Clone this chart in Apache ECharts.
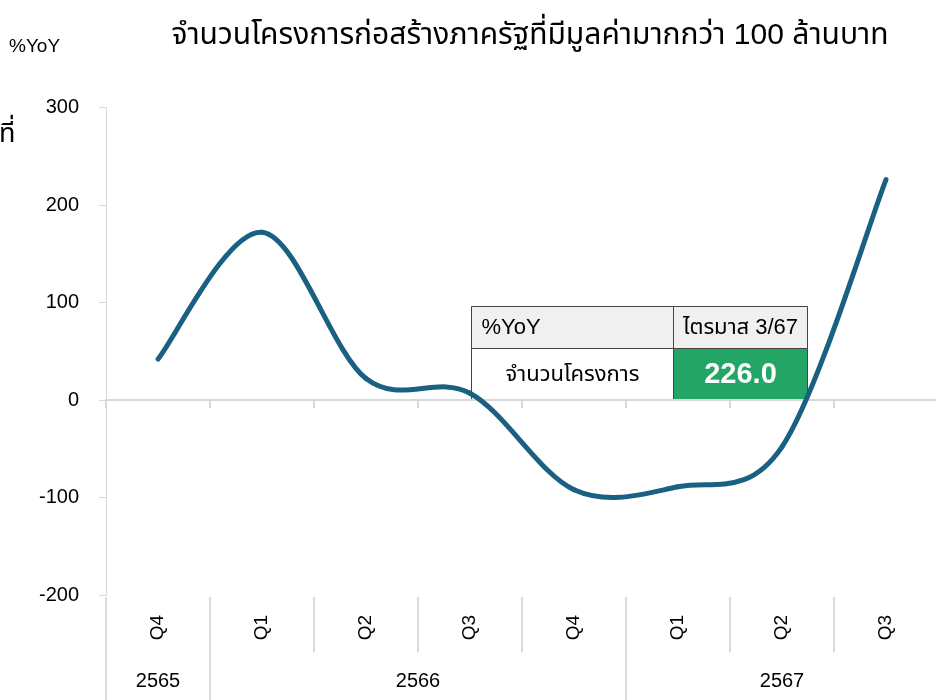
<!DOCTYPE html>
<html><head><meta charset="utf-8">
<script src="https://cdn.jsdelivr.net/npm/echarts@6/dist/echarts.min.js"></script>
<style>html,body{margin:0;padding:0;background:#fff}#c{width:936px;height:700px}</style>
</head><body><div id="c"></div>
<script>
const titleText = 'จำนวนโครงการก่อสร้างภาครัฐที่มีมูลค่ามากกว่า 100 ล้านบาท';
const yAxisName = '%YoY';
const quarters = ['Q4', 'Q1', 'Q2', 'Q3', 'Q4', 'Q1', 'Q2', 'Q3'];
const yoyValues = [42, 172, 22, 7, -92, -89, -48, 226];
const yearLabels = ['2565', '2566', '2567'];
const yearSpans = [1, 4, 3];
const yMin = -200, yMax = 300, yInterval = 100;
const tableHeader = ['%YoY', 'ไตรมาส 3/67'];
const tableRow = ['จำนวนโครงการ', '226.0'];

// Half-slot year axis: points at quarter boundaries and centres
const yearSlots = new Array(quarters.length * 2 + 1).fill('');
const yearBoundaries = new Set();
let start = 0;
yearLabels.forEach((y, i) => {
  yearBoundaries.add(2 * start);
  yearSlots[2 * start + yearSpans[i]] = y;
  start += yearSpans[i];
});
yearBoundaries.add(2 * start);

const FONT = "'Liberation Sans', 'Noto Sans Thai', 'Noto Sans', sans-serif";
const GRID_COLOR = '#d9d9d9';
const LINE_COLOR = '#1a6082';

const chart = echarts.init(document.getElementById('c'), null, { renderer: 'canvas' });
const n = yoyValues.length;
const lastIdx = n - 1;

// Smoothed (Catmull-Rom style) segment between data points i and i+1, positioned via the axes
function renderSegment(params, api) {
  const i = params.dataIndex;
  if (i >= n - 1) return null;
  const P = j => {
    const k = Math.max(0, Math.min(n - 1, j));
    return api.coord([k, yoyValues[k]]);
  };
  const p0 = P(i - 1), p1 = P(i), p2 = P(i + 1), p3 = P(i + 2);
  return {
    type: 'bezierCurve',
    shape: {
      x1: p1[0], y1: p1[1], x2: p2[0], y2: p2[1],
      cpx1: p1[0] + (p2[0] - p0[0]) / 6, cpy1: p1[1] + (p2[1] - p0[1]) / 6,
      cpx2: p2[0] - (p3[0] - p1[0]) / 6, cpy2: p2[1] - (p3[1] - p1[1]) / 6
    },
    style: { stroke: LINE_COLOR, lineWidth: 5, fill: null, lineCap: 'round' }
  };
}

chart.setOption({
  animation: false,
  title: {
    text: titleText, left: 525, top: 16, textAlign: 'center',
    textStyle: { fontSize: 30, fontWeight: 'normal', color: '#000', fontFamily: FONT }
  },
  grid: { left: 106, right: -2, top: 107.5, bottom: 105, containLabel: false, outerBoundsMode: 'none' },
  yAxis: {
    type: 'value', min: yMin, max: yMax, interval: yInterval,
    axisLine: { show: true, lineStyle: { color: GRID_COLOR, width: 1 } },
    axisTick: { show: true, length: 7, lineStyle: { color: GRID_COLOR } },
    splitLine: { show: false },
    axisLabel: { fontSize: 20, color: '#000', margin: 27, fontFamily: FONT }
  },
  xAxis: [
    {
      type: 'category', data: quarters, position: 'bottom', boundaryGap: true,
      axisLine: { show: true, onZero: true, lineStyle: { color: GRID_COLOR, width: 2 } },
      axisTick: { show: true, length: 8, lineStyle: { color: GRID_COLOR, width: 2 } },
      axisLabel: { show: false }
    },
    {
      type: 'category', data: quarters, position: 'bottom', boundaryGap: true, offset: 2,
      axisLine: { show: false, onZero: false },
      axisTick: { show: true, length: 55, lineStyle: { color: GRID_COLOR, width: 2 } },
      axisLabel: { show: true, rotate: 90, fontSize: 19, color: '#000', margin: 18, fontFamily: FONT }
    },
    {
      type: 'category', data: yearSlots, position: 'bottom', boundaryGap: false, offset: 2,
      axisLine: { show: false, onZero: false },
      axisTick: { show: true, length: 110, interval: (idx) => yearBoundaries.has(idx), lineStyle: { color: GRID_COLOR, width: 2 } },
      axisLabel: { show: true, interval: 0, fontSize: 20, color: '#000', margin: 74, fontFamily: FONT }
    }
  ],
  series: [
    {
      type: 'custom', xAxisIndex: 0, yAxisIndex: 0,
      data: yoyValues.map((v, i) => [i, v]),
      renderItem: renderSegment, z: 3
    },
    {
      type: 'scatter', xAxisIndex: 0, yAxisIndex: 0,
      data: [[lastIdx, yoyValues[lastIdx]]],
      symbolSize: 1, itemStyle: { opacity: 0 }, z: 4,
      label: {
        show: true, position: 'top', distance: 22,
        formatter: p => p.value[1].toFixed(1) + '%',
        fontSize: 25, fontWeight: 'bold', color: '#000', fontFamily: FONT
      }
    }
  ],
  graphic: [
    { type: 'text', left: 9, top: 37, style: { text: yAxisName, fontSize: 19, fill: '#000', fontFamily: FONT } },
    { type: 'text', left: -1, top: 121, style: { text: 'ที่', fontSize: 27, fill: '#000', fontFamily: FONT } },
    {
      type: 'group', left: 471, top: 306, z: 100,
      children: [
        { type: 'rect', shape: { x: 0, y: 0, width: 202, height: 42 }, style: { fill: '#f0f0f0', stroke: '#444', lineWidth: 1 } },
        { type: 'rect', shape: { x: 202, y: 0, width: 134, height: 42 }, style: { fill: '#f0f0f0', stroke: '#444', lineWidth: 1 } },
        { type: 'rect', shape: { x: 0, y: 42, width: 202, height: 51 }, style: { fill: '#fff', stroke: '#444', lineWidth: 1 } },
        { type: 'rect', shape: { x: 202, y: 42, width: 134, height: 51 }, style: { fill: '#22a565', stroke: '#444', lineWidth: 1 } },
        { type: 'text', style: { x: 10, y: 21, text: tableHeader[0], fontSize: 22, fill: '#000', verticalAlign: 'middle', textAlign: 'left', fontFamily: FONT } },
        { type: 'text', style: { x: 269, y: 21, text: tableHeader[1], fontSize: 22, fill: '#000', verticalAlign: 'middle', textAlign: 'center', fontFamily: FONT } },
        { type: 'text', style: { x: 101, y: 68, text: tableRow[0], fontSize: 22, fill: '#000', verticalAlign: 'middle', textAlign: 'center', fontFamily: FONT } },
        { type: 'text', style: { x: 269, y: 68, text: tableRow[1], fontSize: 29, fontWeight: 'bold', fill: '#fff', verticalAlign: 'middle', textAlign: 'center', fontFamily: FONT } }
      ]
    }
  ]
});
</script>
</body></html>
